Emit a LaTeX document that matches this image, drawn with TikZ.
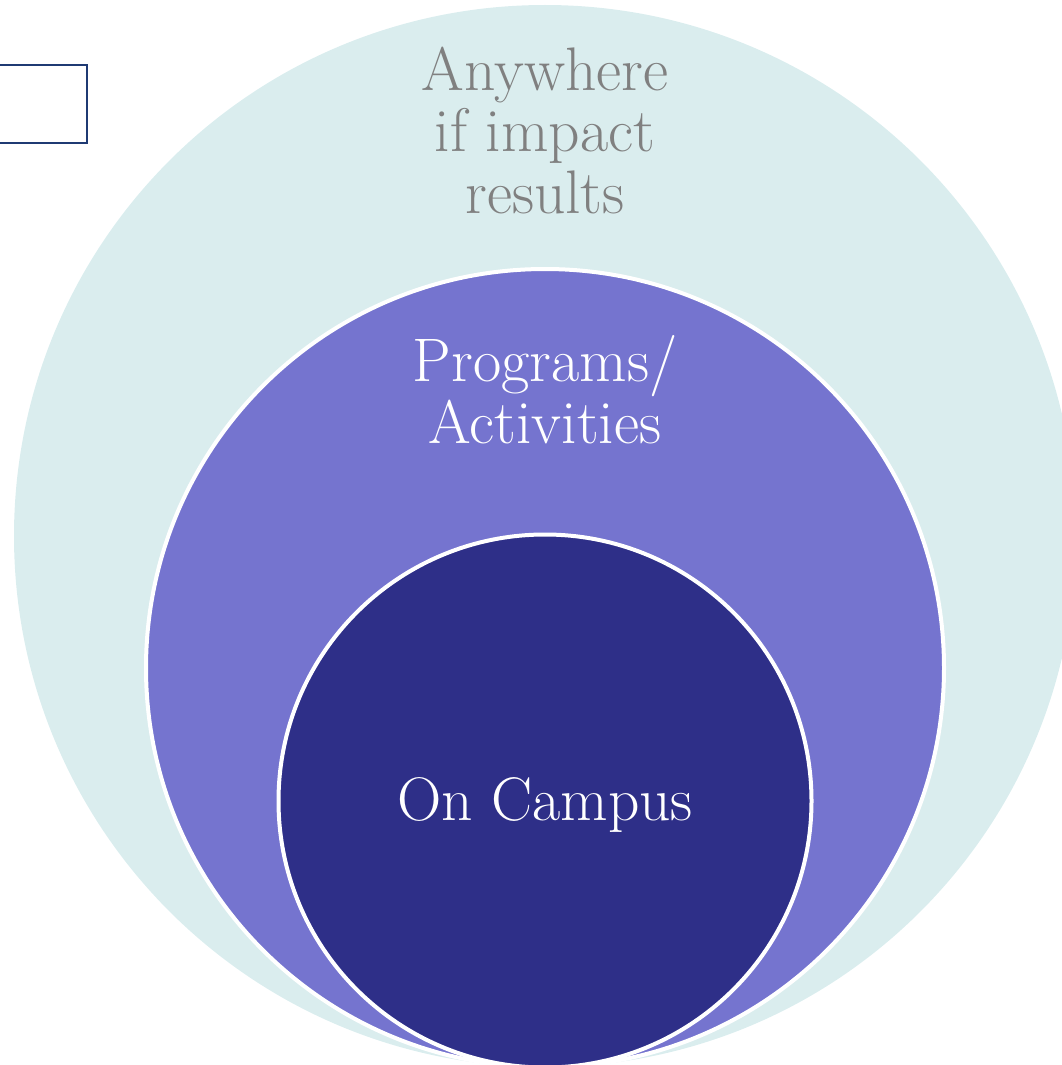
\documentclass[tikz,border=0pt]{standalone}
\begin{document}
\begin{tikzpicture}[x=1pt,y=-1pt,
  ring/.style={circle,inner sep=0pt},
  lbl/.style={align=center,inner sep=0pt,font=\fontsize{61.5}{61.5}\selectfont,anchor=base}]
\definecolor{outerc}{HTML}{DAEDEE}
\definecolor{midc}{HTML}{7574CF}
\definecolor{innerc}{HTML}{2E2F88}
\definecolor{txtgray}{HTML}{808080}
\definecolor{boxc}{HTML}{1F3A73}
\useasboundingbox (0,0) rectangle (1062,1065);
\clip (0,0) rectangle (1062,1065);
\node[ring,fill=outerc,minimum size=1062pt] (outer) at (545,536) {};
\node[ring,fill=midc,draw=white,line width=4pt,minimum size=798pt] (mid) at (545,668) {};
\node[ring,fill=innerc,draw=white,line width=4pt,minimum size=533pt] (inner) at (545,801) {};
\node[draw=boxc,line width=2pt,fill=white,minimum width=110pt,minimum height=78pt,inner sep=0pt] (box) at (32,104) {};
\node[lbl,text=txtgray] (t1) at (545,213) {Anywhere\\if impact\\results};
\node[lbl,text=white] (t2) at (545,443) {Programs/\\Activities};
\node[lbl,text=white] (t3) at (545,820) {On Campus};
\end{tikzpicture}
\end{document}
